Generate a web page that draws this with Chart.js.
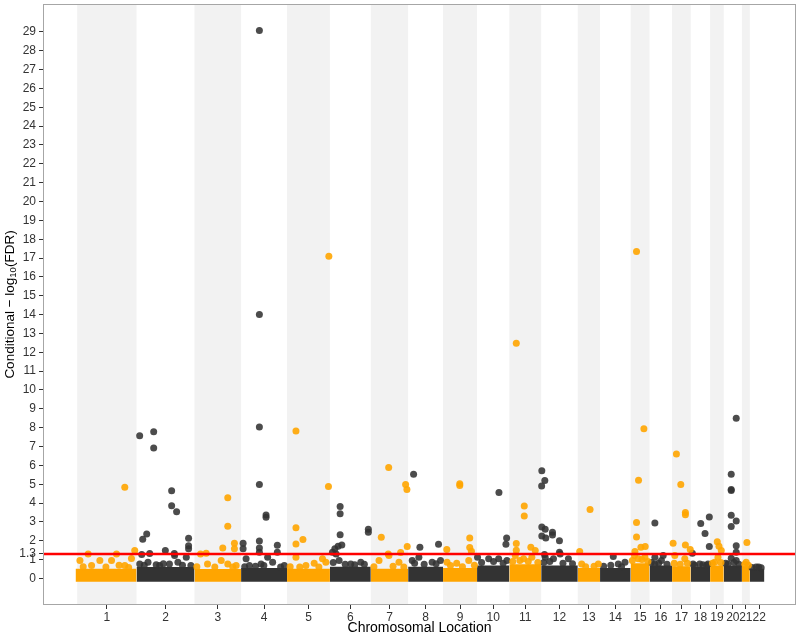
<!DOCTYPE html>
<html>
<head>
<meta charset="utf-8">
<script src="https://cdn.jsdelivr.net/npm/chart.js@4.4.1/dist/chart.umd.min.js"></script>
<style>
  html, body { margin: 0; padding: 0; background: #fff; }
  #wrap { width: 800px; height: 637px; position: relative; }
</style>
</head>
<body>
<div id="wrap"><canvas id="chart"></canvas></div>
<script>
// Chromosomes on a cumulative position axis (Mb)
const chromLabels = ['1','2','3','4','5','6','7','8','9','10','11','12','13','14','15','16','17','18','19','20','21','22'];
const chromStart = [0, 248, 490, 685, 877, 1056, 1227, 1383, 1529, 1671, 1806, 1939, 2092, 2185, 2313, 2392, 2486, 2564, 2645, 2702, 2778, 2811];
const chromEnd   = [248, 490, 685, 877, 1056, 1227, 1383, 1529, 1671, 1806, 1939, 2092, 2185, 2313, 2392, 2486, 2564, 2645, 2702, 2778, 2811, 2890];

// dense mass of non-significant SNPs, per chromosome
const cloudFrom = [-7, 248, 490, 685, 877, 1056, 1227, 1383, 1529, 1671, 1806, 1939, 2092, 2185, 2313, 2392, 2486, 2564, 2645, 2702, 2778, 2811];
const cloudTo   = [248, 490, 685, 877, 1056, 1227, 1383, 1529, 1671, 1806, 1939, 2092, 2185, 2313, 2392, 2486, 2564, 2645, 2702, 2778, 2811, 2872];
const cloudTop  = [0.52, 0.6, 0.5, 0.55, 0.52, 0.62, 0.52, 0.62, 0.55, 0.68, 0.75, 0.68, 0.55, 0.55, 0.8, 0.68, 0.65, 0.6, 0.68, 0.68, 0.65, 0.52];
const cloudBase = -0.17;

// individual SNPs [position Mb, -log10 FDR], odd chromosomes (orange)
const orangeHits = [
  [198.8,4.84],[45.8,1.3],[164.2,1.3],[240.4,1.48],[11.3,0.95],[60,0.69],[94.6,0.95],[143.3,0.95],[198.8,0.69],[226.7,1.06],
  [25,0.62],[120,0.6],[175,0.7],[215,0.58],
  [629.2,4.28],[629.2,2.77],[608.3,1.62],[657,1.87],[657,1.57],[539,1.34],[515.4,1.3],[601.7,0.95],[629.2,0.77],[664.2,0.69],[544.6,0.77],
  [500,0.62],[575,0.6],[650,0.6],
  [914.2,7.82],[914.2,2.69],[914.2,1.83],[914.2,1.13],[1051.7,17.1],[1050,4.88],[943.3,2.06],[1025,1.04],[1039.2,0.86],[955.8,0.69],[990.4,0.8],
  [890,0.62],[930,0.6],[1010,0.6],
  [1301.7,5.88],[1372.5,4.98],[1377.9,4.72],[1270.8,2.18],[1379.2,1.69],[1351.7,1.37],[1300,1.3],[1302.9,1.21],[1261.3,0.95],[1344.6,0.86],
  [1240,0.62],[1320,0.65],[1365,0.6],
  [1598.8,5.02],[1598.8,4.93],[1640.4,2.15],[1640.4,1.64],[1544.6,1.53],[1647.5,1.44],[1545.8,0.86],[1636.3,0.95],[1586,0.8],
  [1560,0.68],[1610,0.62],[1660,0.7],
  [1835,12.48],[1835,1.85],[1835,1.5],[1868.3,3.84],[1868.3,3.31],[1895.8,1.65],[1914.2,1.48],[1830.8,1.21],[1865.4,1.04],[1900,1.13],
  [1820,0.9],[1850,0.95],[1885,0.9],[1925,0.85],
  [2143.3,3.66],[2100,1.43],[2108.3,0.77],[2177.9,0.77],[2125,0.62],[2160,0.65],
  [2337.5,17.35],[2337.5,2.97],[2337.5,2.2],[2368.3,7.94],[2345.8,5.21],[2355.8,1.65],[2373.8,1.69],[2330.8,1.43],[2329,1.21],[2372.5,1.13],[2344.6,1.04],
  [2320,0.95],[2360,1.0],[2385,0.9],
  [2504.2,6.6],[2522.5,4.98],[2541.7,3.5],[2541.7,3.38],[2541.7,1.78],[2490.4,1.87],[2562,1.53],[2497.5,1.21],[2539.2,1.04],
  [2495,0.8],[2520,0.75],[2550,0.8],
  [2675,1.95],[2682.1,1.71],[2691.7,1.48],[2677.9,1.13],[2664.2,0.86],[2655,0.8],[2690,0.85],
  [2798.8,1.9],[2795.8,0.86],[2790,0.75],[2805,0.7]
];

// even chromosomes (dark grey)
const darkHits = [
  [261,7.57],[319.6,7.78],[319.6,6.92],[394.6,4.65],[394.6,3.86],[415.4,3.54],[290.4,2.36],[273.8,2.08],[465.4,2.13],[465.4,1.74],[465.4,1.57],
  [368.3,1.48],[269.6,1.27],[302.9,1.32],[405.8,1.32],[407,1.21],[295.8,0.86],[344.6,0.69],[385.4,0.77],[420.8,0.86],[455.8,1.13],[261.3,0.77],
  [280,0.7],[330,0.72],[360,0.78],[440,0.7],[475,0.68],
  [761.3,29.07],[761.3,14.0],[761.3,8.03],[761.3,4.98],[761.3,1.99],[761.3,1.62],[761.3,1.39],[789.2,3.36],[789.2,3.24],[693.3,1.87],[693.3,1.57],
  [836.3,1.76],[836.3,1.39],[705.8,1.04],[719.6,0.69],[795.8,1.13],[816.7,0.86],[865.4,0.69],[768.3,0.77],
  [700,0.62],[745,0.65],[780,0.68],[850,0.6],
  [1098.8,3.82],[1098.8,3.43],[1098.8,2.32],[1105.8,1.78],[1090.4,1.71],[1076.7,1.57],[1216.7,2.61],[1216.7,2.45],[1082,1.3],[1066.7,1.39],[1143.3,0.77],[1185,0.86],[1094.6,0.95],
  [1070,0.85],[1120,0.75],[1160,0.72],[1200,0.75],
  [1405.8,5.53],[1432.1,1.65],[1510,1.81],[1427.9,1.13],[1400,0.95],[1483.3,0.86],[1518.3,0.95],
  [1410,0.8],[1450,0.75],[1500,0.78],
  [1762.5,4.56],[1794.6,2.15],[1791.7,1.81],[1673,1.13],[1719.6,1.04],[1761.3,1.04],[1795.8,0.95],
  [1690,0.85],[1740,0.9],[1780,0.8],
  [1941.7,5.72],[1941.7,2.73],[1941.7,2.25],[1954.2,5.19],[1941,4.9],[1955.8,2.61],[1958.3,2.15],[1986.3,2.45],[1986.3,2.31],[2015.4,2.0],[2015.4,1.39],
  [1952.9,1.27],[1955.8,1.13],[1990.4,1.04],[2052.9,1.04],[2018.3,1.3],
  [1950,0.85],[1975,0.9],[2030,0.8],[2070,0.78],
  [2240.4,1.16],[2261.3,0.77],[2289.2,0.86],[2200,0.65],[2230,0.7],[2275,0.62],
  [2414.2,2.94],[2414.2,1.13],[2449,1.21],[2441.7,0.95],[2414.2,0.77],[2400,0.85],[2430,0.8],[2465,0.75],
  [2605.8,2.92],[2641.7,3.26],[2641.7,1.69],[2623.8,2.38],[2570.8,1.34],[2573.8,0.77],[2601.7,0.77],[2636.3,0.77],
  [2580,0.7],[2615,0.72],[2630,0.7],
  [2754.2,8.5],[2754.2,3.05],[2754.2,1.73],[2754.2,1.39],[2733.3,5.53],[2733.3,4.72],[2733.3,4.67],[2733.3,3.35],[2733.3,2.75],[2733.3,1.07],[2754.2,0.95],[2719.6,0.77],
  [2710,0.8],[2745,0.85],[2765,0.75],
  [2837.5,0.6],[2858.3,0.57],[2820,0.58],[2848,0.6]
];

const yTicks = [0, 1, 1.3, 2, 3, 4, 5, 6, 7, 8, 9, 10, 11, 12, 13, 14, 15, 16, 17, 18, 19, 20, 21, 22, 23, 24, 25, 26, 27, 28, 29];
const threshold = 1.3;
const xRange = [-143, 3004];
const yRange = [-1.41, 30.48];

const ORANGE = '#FFA500';
const DARK = '#333333';
const FONT = '"Liberation Sans", Arial, Helvetica, sans-serif';

const chromMid = chromStart.map((s, i) => (s + chromEnd[i]) / 2);

// grey bands behind odd chromosomes
const bandPlugin = {
  id: 'bands',
  beforeDatasetsDraw(chart) {
    const { ctx, chartArea: a, scales: { x } } = chart;
    ctx.save();
    ctx.fillStyle = '#f2f2f2';
    chromStart.forEach((s, i) => {
      if (i % 2) return;
      const x0 = x.getPixelForValue(s), x1 = x.getPixelForValue(chromEnd[i]);
      ctx.fillRect(x0, a.top, x1 - x0, a.bottom - a.top);
    });
    ctx.restore();
  }
};

// panel border + y title with subscript
const framePlugin = {
  id: 'frame',
  afterDraw(chart) {
    const { ctx, chartArea: a } = chart;
    ctx.save();
    ctx.strokeStyle = '#a6a6a6';
    ctx.lineWidth = 1;
    ctx.strokeRect(a.left + 0.5, a.top + 0.5, a.right - a.left - 1, a.bottom - a.top - 1);

    const parts = [['Conditional \u2212 log', 13.5, 0], ['10', 9.5, 3], ['(FDR)', 13.5, 0]];
    ctx.translate(10, (a.top + a.bottom) / 2);
    ctx.rotate(-Math.PI / 2);
    let total = 0;
    parts.forEach(p => { ctx.font = p[1] + 'px ' + FONT; total += ctx.measureText(p[0]).width; });
    let cx = -total / 2;
    ctx.fillStyle = '#000';
    ctx.textBaseline = 'middle';
    parts.forEach(p => {
      ctx.font = p[1] + 'px ' + FONT;
      ctx.fillText(p[0], cx, p[2]);
      cx += ctx.measureText(p[0]).width;
    });
    ctx.restore();
  }
};

const blockSets = chromLabels.map((c, i) => ({
  type: 'line',
  data: [{ x: cloudFrom[i], y: cloudTop[i] }, { x: cloudTo[i], y: cloudTop[i] }],
  borderColor: 'transparent',
  borderWidth: 0,
  pointRadius: 0,
  fill: { value: cloudBase },
  backgroundColor: i % 2 ? DARK : ORANGE,
  order: 3
}));

new Chart(document.getElementById('chart'), {
  type: 'scatter',
  data: {
    datasets: [
      ...blockSets,
      { type: 'scatter', data: orangeHits.map(p => ({ x: p[0], y: p[1] })), backgroundColor: 'rgba(255,165,0,0.9)', borderWidth: 0, pointRadius: 3.5, order: 2 },
      { type: 'scatter', data: darkHits.map(p => ({ x: p[0], y: p[1] })), backgroundColor: 'rgba(51,51,51,0.88)', borderWidth: 0, pointRadius: 3.5, order: 2 },
      { type: 'line', data: [{ x: xRange[0], y: threshold }, { x: xRange[1], y: threshold }], borderColor: '#ff0000', borderWidth: 2.6, pointRadius: 0, fill: false, order: 1 }
    ]
  },
  options: {
    responsive: true,
    maintainAspectRatio: false,
    animation: false,
    events: [],
    layout: { padding: { top: 2, right: 2, bottom: 0, left: 0 } },
    plugins: { legend: { display: false }, tooltip: { enabled: false } },
    scales: {
      x: {
        type: 'linear', min: xRange[0], max: xRange[1],
        afterBuildTicks: s => { s.ticks = chromMid.map(v => ({ value: v })); },
        afterFit: s => { s.height = 32; s.paddingLeft = 0; s.paddingRight = 0; },
        grid: { drawOnChartArea: false, drawTicks: true, tickLength: 4, tickColor: '#333' },
        border: { display: false },
        ticks: { autoSkip: false, maxRotation: 0, minRotation: 0, padding: 1, color: '#333', font: { family: FONT, size: 12 },
                 callback: (v, i) => chromLabels[i] },
        title: { display: true, text: 'Chromosomal Location', color: '#000', font: { family: FONT, size: 14 }, padding: 0 }
      },
      y: {
        type: 'linear', min: yRange[0], max: yRange[1],
        afterBuildTicks: s => { s.ticks = yTicks.map(v => ({ value: v })); },
        afterFit: s => { s.width = 43; s.paddingTop = 0; s.paddingBottom = 0; },
        grid: { drawOnChartArea: false, drawTicks: true, tickLength: 4, tickColor: '#333' },
        border: { display: false },
        ticks: { autoSkip: false, padding: 3, color: '#333', font: { family: FONT, size: 12 }, callback: v => String(v) }
      }
    }
  },
  plugins: [bandPlugin, framePlugin]
});
</script>
</body>
</html>
